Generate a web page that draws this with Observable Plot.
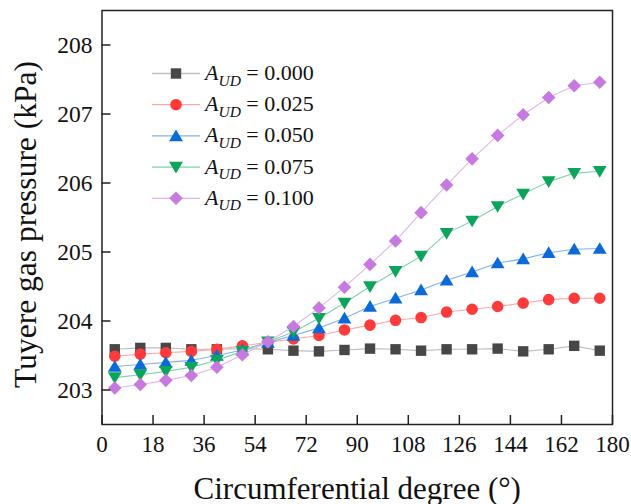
<!DOCTYPE html>
<html>
<head>
<meta charset="utf-8">
<script src="https://cdn.jsdelivr.net/npm/d3@7"></script>
<script src="https://cdn.jsdelivr.net/npm/@observablehq/plot@0.6"></script>
<style>
  body { margin: 0; background: #fff; }
  #chart { width: 631px; height: 504px; }
</style>
</head>
<body>
<div id="chart"></div>
<script>
// Circumferential position of each tuyere (degrees)
const degrees = [4.5, 13.5, 22.5, 31.5, 40.5, 49.5, 58.5, 67.5, 76.5, 85.5,
                 94.5, 103.5, 112.5, 121.5, 130.5, 139.5, 148.5, 157.5, 166.5, 175.5];

// Tuyere gas pressure (kPa) for each A_UD value
const pressure000 = [203.59, 203.61, 203.61, 203.59, 203.59, 203.60, 203.59, 203.57, 203.56, 203.58,
                     203.60, 203.59, 203.57, 203.59, 203.59, 203.60, 203.56, 203.59, 203.64, 203.57];
const pressure025 = [203.49, 203.52, 203.54, 203.56, 203.59, 203.64, 203.69, 203.74, 203.79, 203.87,
                     203.94, 204.01, 204.05, 204.13, 204.17, 204.21, 204.26, 204.31, 204.33, 204.33];
const pressure050 = [203.34, 203.37, 203.40, 203.43, 203.50, 203.58, 203.69, 203.79, 203.90, 204.04,
                     204.21, 204.33, 204.45, 204.59, 204.71, 204.84, 204.90, 204.99, 205.04, 205.05];
const pressure075 = [203.18, 203.22, 203.27, 203.33, 203.43, 203.56, 203.70, 203.84, 204.04, 204.26,
                     204.50, 204.72, 204.94, 205.27, 205.45, 205.66, 205.84, 206.02, 206.14, 206.17];
const pressure100 = [203.03, 203.08, 203.14, 203.21, 203.33, 203.51, 203.70, 203.92, 204.19, 204.49,
                     204.82, 205.16, 205.57, 205.97, 206.35, 206.69, 206.99, 207.24, 207.41, 207.46];

const audLabels = ["0.000", "0.025", "0.050", "0.075", "0.100"];
const xTicks = [0, 18, 36, 54, 72, 90, 108, 126, 144, 162, 180];
const yTicks = [203, 204, 205, 206, 207, 208];

// Marker shapes (size is the area Plot passes, i.e. r² π)
const rad = (size) => Math.sqrt(size / Math.PI);
const symSquare = { draw(ctx, size) { const r = rad(size); ctx.rect(-r, -r, 2 * r, 2 * r); } };
const symCircle = { draw(ctx, size) { const r = rad(size); ctx.moveTo(r, 0); ctx.arc(0, 0, r, 0, 2 * Math.PI); } };
const symTriUp = { draw(ctx, size) { const r = rad(size);
  ctx.moveTo(0, -r); ctx.lineTo(1.08 * r, 0.83 * r); ctx.lineTo(-1.08 * r, 0.83 * r); ctx.closePath(); } };
const symTriDown = { draw(ctx, size) { const r = rad(size);
  ctx.moveTo(0, r); ctx.lineTo(1.08 * r, -0.83 * r); ctx.lineTo(-1.08 * r, -0.83 * r); ctx.closePath(); } };
const symDiamond = { draw(ctx, size) { const r = rad(size);
  ctx.moveTo(0, -r); ctx.lineTo(r, 0); ctx.lineTo(0, r); ctx.lineTo(-r, 0); ctx.closePath(); } };

const series = [
  { values: pressure000, label: audLabels[0], marker: "#474747", line: "#bdbdbd", symbol: symSquare, r: 5.2 },
  { values: pressure025, label: audLabels[1], marker: "#ff3a3a", line: "#ffa6a6", symbol: symCircle, r: 5.8 },
  { values: pressure050, label: audLabels[2], marker: "#0a6ad8", line: "#7fb2ea", symbol: symTriUp, r: 6.4 },
  { values: pressure075, label: audLabels[3], marker: "#0aa55a", line: "#7fd2aa", symbol: symTriDown, r: 6.4 },
  { values: pressure100, label: audLabels[4], marker: "#c67ae0", line: "#e0b5ef", symbol: symDiamond, r: 6.8 }
];

const W = 631, H = 504;
const mLeft = 101.5, mRight = 19, mTop = 10, mBottom = 80;
const plotW = W - mLeft - mRight, plotH = H - mTop - mBottom;
const tickLen = 9;
const font = "Liberation Serif, Times New Roman, Times, serif";

const seriesMarks = series.flatMap(s => {
  const rows = degrees.map((d, i) => ({ deg: d, p: s.values[i] }));
  return [
    Plot.line(rows, { x: "deg", y: "p", stroke: s.line, strokeWidth: 1.1 }),
    Plot.dot(rows, { x: "deg", y: "p", fill: s.marker, symbol: s.symbol, r: s.r })
  ];
});

const chart = Plot.plot({
  width: W,
  height: H,
  marginLeft: mLeft,
  marginRight: mRight,
  marginTop: mTop,
  marginBottom: mBottom,
  style: { fontFamily: font, background: "#fff", color: "#111" },
  x: { domain: [0, 180] },
  y: { domain: [202.5, 208.5] },
  marks: [
    ...seriesMarks,
    // inward tick marks
    Plot.tickX(xTicks, { x: d => d, insetTop: plotH - tickLen, stroke: "#222", strokeWidth: 1.5 }),
    Plot.tickY(yTicks, { y: d => d, insetRight: plotW - tickLen, stroke: "#222", strokeWidth: 1.5 }),
    Plot.axisX(xTicks, { tickSize: 0, tickPadding: 11.5, fontSize: 23, fontFamily: font, fill: "#111", tickFormat: d => String(d), label: null }),
    Plot.axisY(yTicks, { tickSize: 0, tickPadding: 9.5, fontSize: 23.5, fontFamily: font, fill: "#111", tickFormat: d => String(d), label: null }),
    Plot.frame({ stroke: "#222", strokeWidth: 1.5 }),
    Plot.text(["Circumferential degree (°)"], {
      text: d => d, frameAnchor: "bottom", lineAnchor: "bottom", textAnchor: "middle",
      dy: 74, fontSize: 31, fontFamily: font, fill: "#111"
    }),
    Plot.text(["Tuyere gas pressure (kPa)"], {
      text: d => d, frameAnchor: "left", lineAnchor: "bottom", textAnchor: "middle", rotate: -90,
      dx: -66.5, dy: 7, fontSize: 31.5, fontFamily: font, fill: "#111"
    })
  ]
});

// Legend inside the plot area, top-left
const svg = d3.select(chart);
const lg = svg.append("g")
  .attr("font-family", font).attr("font-size", 22).attr("fill", "#111")
  .attr("text-anchor", "start");
const legendTop = 73.5, legendStep = 31.2;
series.forEach((s, i) => {
  const cy = legendTop + i * legendStep;
  lg.append("line").attr("x1", 152).attr("x2", 200).attr("y1", cy).attr("y2", cy)
    .attr("stroke", s.line).attr("stroke-width", 1.3);
  lg.append("path").attr("transform", `translate(176,${cy})`)
    .attr("d", d3.symbol(s.symbol, s.r * s.r * Math.PI)()).attr("fill", s.marker);
  const t = lg.append("text").attr("x", 205).attr("y", cy + 6.5).attr("text-anchor", "start");
  t.append("tspan").attr("font-style", "italic").text("A");
  t.append("tspan").attr("font-style", "italic").attr("font-size", 15.5).attr("dy", 5.5).text("UD");
  t.append("tspan").attr("dy", -5.5).text(" = " + s.label);
});

document.getElementById("chart").appendChild(chart);
</script>
</body>
</html>
